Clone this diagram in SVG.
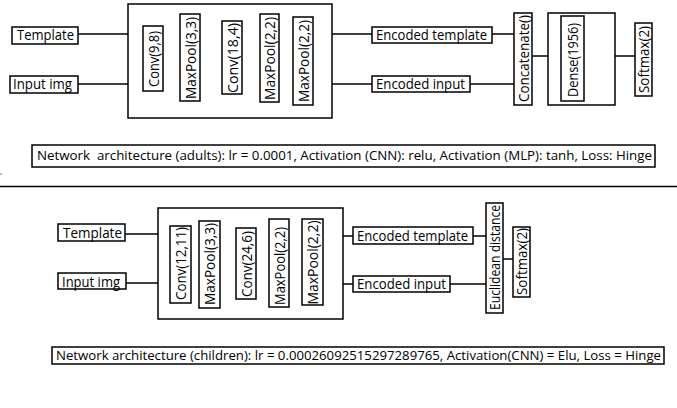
<svg xmlns="http://www.w3.org/2000/svg" width="677" height="408" viewBox="0 0 677 408">
<style>
  rect.b { fill: #fff; stroke: #000; stroke-width: 1.5; }
  line, path.c { stroke: #000; stroke-width: 1.5; fill: none; }
  text { font-family: "Open Sans", "Liberation Sans", sans-serif; font-size: 14px; fill: #000; }
  text.v { text-anchor: middle; }
  text.cap { font-size: 13px; white-space: pre; }
</style>
<rect width="677" height="408" fill="#fff"/>

<!-- ===== Top network (adults) ===== -->
<g id="connectors-top">
  <line x1="78" y1="34" x2="128" y2="34"/>
  <line x1="78" y1="84" x2="128" y2="84"/>
  <line x1="332" y1="34" x2="372" y2="34"/>
  <line x1="332" y1="84" x2="372" y2="84"/>
  <line x1="492" y1="34" x2="514" y2="34"/>
  <line x1="470" y1="84" x2="514" y2="84"/>
  <line x1="532" y1="56" x2="548" y2="56"/>
  <line x1="615" y1="56" x2="635" y2="56"/>
</g>

<g id="t-template">
  <rect class="b" x="12" y="27" width="66" height="17"/>
  <text x="17" y="40" textLength="57" lengthAdjust="spacingAndGlyphs">Template</text>
</g>
<g id="t-input">
  <rect class="b" x="10" y="76" width="68" height="17"/>
  <text x="13" y="89" textLength="59" lengthAdjust="spacingAndGlyphs">Input img</text>
</g>
<g id="t-cnn">
  <rect class="b" x="128" y="4" width="204" height="114"/>
  <g id="t-conv1">
    <rect class="b" x="143" y="26" width="20" height="65"/>
    <text class="v" transform="translate(158.5,59) rotate(-90)" textLength="56" lengthAdjust="spacingAndGlyphs">Conv(9,8)</text>
  </g>
  <g id="t-pool1">
    <rect class="b" x="180" y="14" width="20" height="87"/>
    <text class="v" transform="translate(195.5,58) rotate(-90)" textLength="82" lengthAdjust="spacingAndGlyphs">MaxPool(3,3)</text>
  </g>
  <g id="t-conv2">
    <rect class="b" x="222" y="21" width="20" height="73"/>
    <text class="v" transform="translate(237.5,58) rotate(-90)" textLength="70" lengthAdjust="spacingAndGlyphs">Conv(18,4)</text>
  </g>
  <g id="t-pool2">
    <rect class="b" x="260" y="14" width="19" height="88"/>
    <text class="v" transform="translate(275,58.5) rotate(-90)" textLength="83" lengthAdjust="spacingAndGlyphs">MaxPool(2,2)</text>
  </g>
  <g id="t-pool3">
    <rect class="b" x="293" y="17" width="20" height="88"/>
    <text class="v" transform="translate(308.5,61) rotate(-90)" textLength="82" lengthAdjust="spacingAndGlyphs">MaxPool(2,2)</text>
  </g>
</g>
<g id="t-enc-template">
  <rect class="b" x="372" y="27" width="120" height="16"/>
  <text x="376" y="40" textLength="111" lengthAdjust="spacingAndGlyphs">Encoded template</text>
</g>
<g id="t-enc-input">
  <rect class="b" x="372" y="76" width="98" height="16"/>
  <text x="376" y="89" textLength="89" lengthAdjust="spacingAndGlyphs">Encoded input</text>
</g>
<g id="t-concat">
  <rect class="b" x="514" y="13" width="18" height="92"/>
  <text class="v" transform="translate(528.5,58.5) rotate(-90)" textLength="87" lengthAdjust="spacingAndGlyphs">Concatenate()</text>
</g>
<g id="t-mlp">
  <rect class="b" x="548" y="13" width="67" height="92"/>
  <g id="t-dense">
    <rect class="b" x="561" y="16" width="23" height="85"/>
    <text class="v" transform="translate(578,60) rotate(-90)" textLength="74" lengthAdjust="spacingAndGlyphs">Dense(1956)</text>
  </g>
</g>
<g id="t-softmax">
  <rect class="b" x="635" y="23" width="17" height="73"/>
  <text class="v" transform="translate(649,59.5) rotate(-90)" textLength="67" lengthAdjust="spacingAndGlyphs">Softmax(2)</text>
</g>
<g id="t-caption">
  <rect class="b" x="32" y="145" width="623" height="22"/>
  <text class="cap" x="37" y="159.5" textLength="615" lengthAdjust="spacingAndGlyphs">Network  architecture (adults): lr = 0.0001, Activation (CNN): relu, Activation (MLP): tanh, Loss: Hinge</text>
</g>
<rect x="0.5" y="173.5" width="1.2" height="1.2" fill="#333"/>

<line x1="0" y1="186.5" x2="677" y2="186.5"/>

<!-- ===== Bottom network (children) ===== -->
<g id="connectors-bottom">
  <line x1="125" y1="234" x2="158" y2="234"/>
  <line x1="126" y1="283" x2="158" y2="283"/>
  <line x1="343" y1="236" x2="353" y2="236"/>
  <line x1="343" y1="284" x2="353" y2="284"/>
  <line x1="473" y1="236" x2="486" y2="236"/>
  <line x1="450" y1="284" x2="486" y2="284"/>
  <line x1="503" y1="259" x2="513" y2="259"/>
</g>

<g id="b-template">
  <rect class="b" x="58" y="224" width="67" height="17"/>
  <text x="63" y="238" textLength="59" lengthAdjust="spacingAndGlyphs">Template</text>
</g>
<g id="b-input">
  <rect class="b" x="58" y="273" width="68" height="16"/>
  <text x="62" y="286.5" textLength="58" lengthAdjust="spacingAndGlyphs">Input img</text>
</g>
<g id="b-cnn">
  <rect class="b" x="158" y="208" width="185" height="111"/>
  <g id="b-conv1">
    <rect class="b" x="170" y="226" width="21" height="77"/>
    <text class="v" transform="translate(186,263.5) rotate(-90)" textLength="73" lengthAdjust="spacingAndGlyphs">Conv(12,11)</text>
  </g>
  <g id="b-pool1">
    <rect class="b" x="199" y="221" width="21" height="87"/>
    <text class="v" transform="translate(215,264) rotate(-90)" textLength="82" lengthAdjust="spacingAndGlyphs">MaxPool(3,3)</text>
  </g>
  <g id="b-conv2">
    <rect class="b" x="236" y="228" width="20" height="71"/>
    <text class="v" transform="translate(251.5,264) rotate(-90)" textLength="66" lengthAdjust="spacingAndGlyphs">Conv(24,6)</text>
  </g>
  <g id="b-pool2">
    <rect class="b" x="269" y="219" width="20" height="88"/>
    <text class="v" transform="translate(284.5,266) rotate(-90)" textLength="78" lengthAdjust="spacingAndGlyphs">MaxPool(2,2)</text>
  </g>
  <g id="b-pool3">
    <rect class="b" x="302" y="219" width="21" height="86"/>
    <text class="v" transform="translate(318,262.5) rotate(-90)" textLength="84" lengthAdjust="spacingAndGlyphs">MaxPool(2,2)</text>
  </g>
</g>
<g id="b-enc-template">
  <rect class="b" x="353" y="227" width="120" height="17"/>
  <text x="357" y="240.5" textLength="111" lengthAdjust="spacingAndGlyphs">Encoded template</text>
</g>
<g id="b-enc-input">
  <rect class="b" x="353" y="276" width="97" height="16"/>
  <text x="357" y="289" textLength="89" lengthAdjust="spacingAndGlyphs">Encoded input</text>
</g>
<g id="b-euclid">
  <rect class="b" x="486" y="203" width="17" height="110"/>
  <text class="v" transform="translate(500,257.5) rotate(-90)" textLength="105" lengthAdjust="spacingAndGlyphs">Euclidean distance</text>
</g>
<g id="b-softmax">
  <rect class="b" x="513" y="227" width="17" height="70"/>
  <text class="v" transform="translate(527,261.5) rotate(-90)" textLength="67" lengthAdjust="spacingAndGlyphs">Softmax(2)</text>
</g>
<g id="b-caption">
  <rect class="b" x="52" y="347" width="612" height="17"/>
  <text class="cap" x="56" y="359.5" textLength="605" lengthAdjust="spacingAndGlyphs">Network architecture (children): lr = 0.00026092515297289765, Activation(CNN) = Elu, Loss = Hinge</text>
</g>
</svg>
